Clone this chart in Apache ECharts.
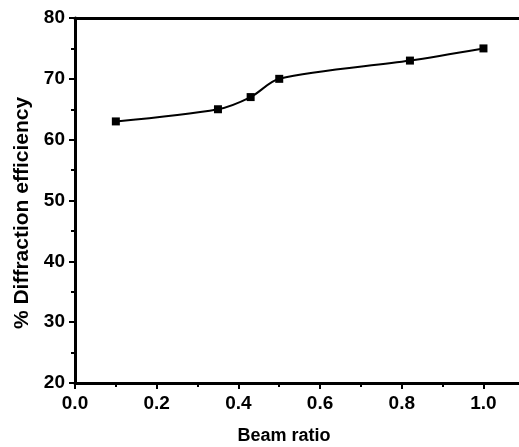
<!DOCTYPE html>
<html>
<head>
<meta charset="utf-8">
<script src="https://cdn.jsdelivr.net/npm/echarts@6/dist/echarts.min.js"></script>
<style>html,body{margin:0;padding:0;background:#fff}#c{width:519px;height:447px}</style>
</head>
<body>
<div id="c"></div>
<script>
var beamRatio = [0.10, 0.35, 0.43, 0.50, 0.82, 1.00];
var efficiency = [63, 65, 67, 70, 73, 75];
var xMajorTicks = [0.0, 0.2, 0.4, 0.6, 0.8, 1.0];
var xMinorTicks = [0.1, 0.3, 0.5, 0.7, 0.9];
var xTitle = 'Beam ratio';
var yTitle = '% Diffraction efficiency';

var FONT = '"Liberation Sans", Arial, sans-serif';
var chart = echarts.init(document.getElementById('c'), null, {renderer: 'canvas'});
var pts = beamRatio.map(function (x, i) { return [x, efficiency[i]]; });
var XMAX = 1.087;

chart.setOption({
  animation: false,
  backgroundColor: '#fff',
  grid: {left: 75, top: 18, right: 0, bottom: 64, containLabel: false},
  xAxis: [{
    type: 'value', min: 0, max: XMAX, position: 'bottom',
    axisLine: {show: true, onZero: false, lineStyle: {color: '#000', width: 3}},
    axisTick: {show: true, inside: false, length: 6, customValues: xMajorTicks, lineStyle: {color: '#000', width: 2}},
    splitLine: {show: false},
    axisLabel: {show: true, margin: 11, color: '#000', fontFamily: FONT, fontWeight: 'bold', fontSize: 19,
      customValues: xMajorTicks,
      formatter: function (v) { return v.toFixed(1); }}
  }, {
    type: 'value', min: 0, max: XMAX, position: 'top',
    axisLine: {show: true, onZero: false, lineStyle: {color: '#000', width: 3}},
    axisTick: {show: false}, axisLabel: {show: false}, splitLine: {show: false}
  }, {
    type: 'value', min: 0, max: XMAX, position: 'bottom', offset: 0,
    axisLine: {show: false, onZero: false},
    axisTick: {show: true, inside: false, length: 4, customValues: xMinorTicks, lineStyle: {color: '#000', width: 2}},
    axisLabel: {show: false}, splitLine: {show: false}
  }],
  yAxis: {
    type: 'value', min: 20, max: 80, interval: 10,
    axisLine: {show: true, onZero: false, lineStyle: {color: '#000', width: 3}},
    axisTick: {show: true, inside: false, length: 6, lineStyle: {color: '#000', width: 2}},
    minorTick: {show: true, splitNumber: 2, length: 4, lineStyle: {color: '#000', width: 2}},
    splitLine: {show: false},
    axisLabel: {show: true, margin: 10, color: '#000', fontFamily: FONT, fontWeight: 'bold', fontSize: 19}
  },
  series: [{
    type: 'line', data: pts, xAxisIndex: 0, smooth: 0.3,
    symbol: 'rect', symbolSize: 8,
    itemStyle: {color: '#000'},
    lineStyle: {color: '#000', width: 2}
  }],
  graphic: [{
    type: 'text', x: 284, y: 436,
    style: {text: xTitle, fill: '#000', font: 'bold 18px ' + FONT, textAlign: 'center', textVerticalAlign: 'middle'}
  }, {
    type: 'text', x: 22, y: 213, rotation: Math.PI / 2,
    style: {text: yTitle, fill: '#000', font: 'bold 21px ' + FONT, textAlign: 'center', textVerticalAlign: 'middle'}
  }]
});
</script>
</body>
</html>
